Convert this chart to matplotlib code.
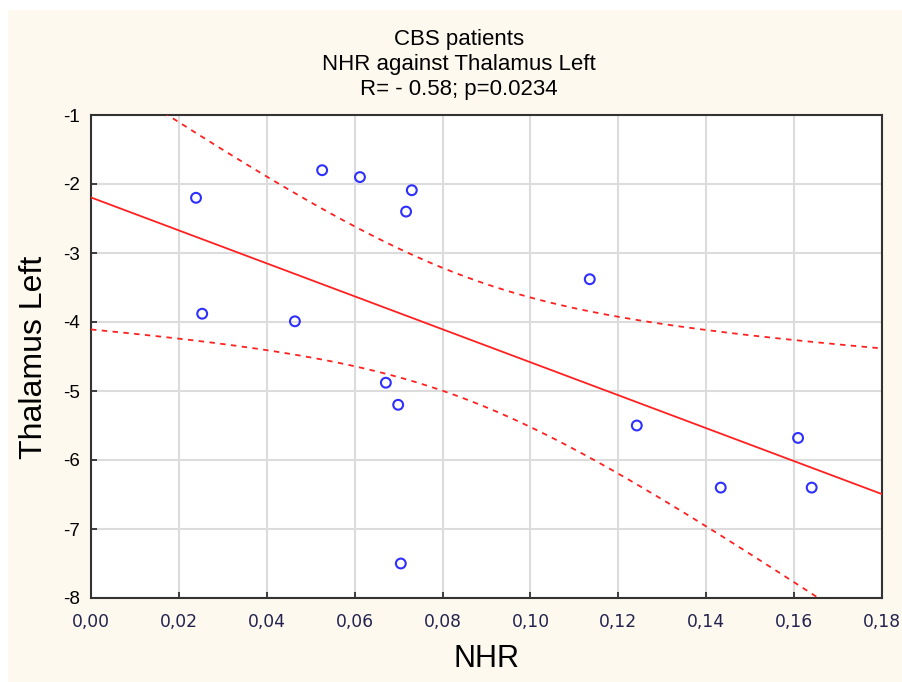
import numpy as np
import matplotlib
matplotlib.use("Agg")
import matplotlib.pyplot as plt
from matplotlib.patches import Rectangle

# Data
nhr = [0.0239, 0.0253, 0.0464, 0.0526, 0.0612, 0.0730, 0.0717, 0.0671,
       0.0699, 0.0705, 0.1135, 0.1242, 0.1433, 0.1609, 0.1640]
thal_left = [-2.2, -3.88, -3.99, -1.8, -1.9, -2.09, -2.4, -4.88,
             -5.2, -7.5, -3.38, -5.5, -6.4, -5.68, -6.4]
xticks = [0.00, 0.02, 0.04, 0.06, 0.08, 0.10, 0.12, 0.14, 0.16, 0.18]
yticks = [-8, -7, -6, -5, -4, -3, -2, -1]
title_lines = ["CBS patients", "NHR against Thalamus Left", "R= - 0.58; p=0.0234"]

x = np.array(nhr)
y = np.array(thal_left)
n = len(x)
b, a = np.polyfit(x, y, 1)
resid = y - (a + b * x)
s = np.sqrt(np.sum(resid ** 2) / (n - 2))
sxx = np.sum((x - x.mean()) ** 2)
tval = 2.160  # t(0.975, 13)
xs = np.linspace(0, 0.18, 300)
yh = a + b * xs
half = tval * s * np.sqrt(1 / n + (xs - x.mean()) ** 2 / sxx)

fig = plt.figure(figsize=(9.02, 6.82), dpi=100)
fig.patch.set_facecolor("white")
fig.patches.append(Rectangle((8 / 902, 0), 1 - 8 / 902, 1 - 10 / 682,
                             transform=fig.transFigure, facecolor="#fdf9ef",
                             edgecolor="none", zorder=-10))

ax = fig.add_axes([91 / 902, 1 - 598 / 682, (882 - 91) / 902, (598 - 115) / 682])
ax.set_facecolor("white")
ax.set_xlim(0, 0.18)
ax.set_ylim(-8, -1)
ax.set_xticks(xticks)
ax.set_yticks(yticks)
ax.set_xticklabels([f"{v:.2f}".replace(".", ",") for v in xticks],
                   fontfamily="DejaVu Sans", fontsize=12.3, color="#23234f")
ax.set_yticklabels([str(v) for v in yticks], fontfamily="Liberation Sans",
                   fontsize=13.5, color="black")
ax.tick_params(axis="both", direction="in", length=4, width=1.2, color="#222222")
ax.tick_params(axis="x", pad=10.5)
ax.tick_params(axis="y", pad=8)
ax.grid(True, color="#dcdcdc", linewidth=1.5)
ax.set_axisbelow(True)
for sp in ax.spines.values():
    sp.set_color("#333333")
    sp.set_linewidth(1.5)

ax.plot(xs, yh, color="#ff2020", linewidth=1.3, zorder=3)
ax.plot(xs, yh + half, color="#ff2020", linewidth=1.3, linestyle=(0, (3, 3)), zorder=3)
ax.plot(xs, yh - half, color="#ff2020", linewidth=1.3, linestyle=(0, (3, 3)), zorder=3)
ax.scatter(x, y, s=50, facecolors="none", edgecolors="#2f2fff", linewidths=1.5, zorder=4)

for i, t in enumerate(title_lines):
    fig.text(459 / 902, 1 - (45 + 25 * i) / 682, t, ha="center", va="baseline",
             fontfamily="Liberation Sans", fontsize=16, color="black")

fig.text(34 / 902, 1 - 357 / 682, "Thalamus Left", rotation=90, ha="center",
         va="center", fontfamily="Liberation Sans", fontsize=23, color="black")
fig.text(486 / 902, 1 - 659 / 682, "NHR", ha="center", va="center",
         fontfamily="Liberation Sans", fontsize=22, color="black")

fig.savefig("out.png", dpi=100, facecolor=fig.get_facecolor())
